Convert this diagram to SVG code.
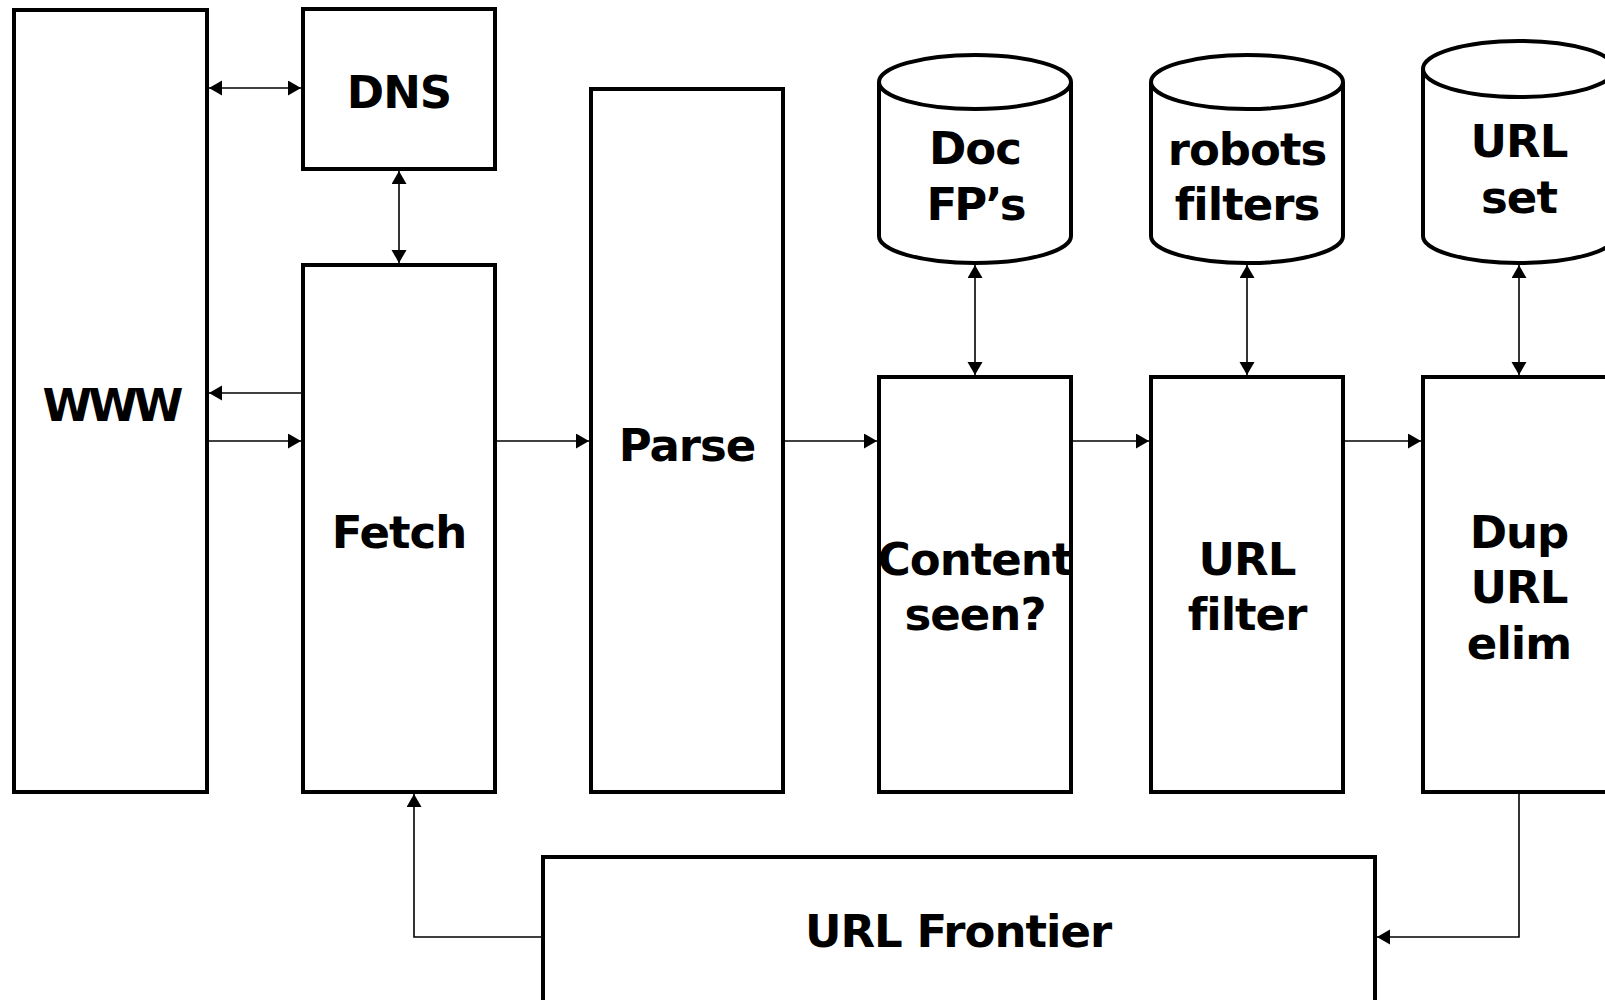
<svg xmlns="http://www.w3.org/2000/svg" width="1605" height="1000" viewBox="0 0 1605 1000">
  <style>
    .box { fill: #fff; stroke: #000; stroke-width: 4; }
    .lbl { font-family: "DejaVu Sans", "Open Sans", sans-serif; font-weight: bold; font-size: 45px; letter-spacing: -1px; fill: #000; text-anchor: middle; }
    .con { fill: none; stroke: #000; stroke-width: 1.6; }
    .rim { fill: none; stroke: #000; stroke-width: 4; }
  </style>
  <defs>
    <marker id="arr" markerUnits="userSpaceOnUse" markerWidth="14" markerHeight="16" refX="13" refY="7.5" orient="auto-start-reverse" viewBox="0 0 14 16">
      <path d="M0,0 L13,7.5 L0,15 z" fill="#000"/>
    </marker>
  </defs>
  <rect width="1605" height="1000" fill="#fff"/>

  <!-- connectors -->
  <g id="connectors">
    <line class="con" x1="209" y1="88" x2="301" y2="88" marker-start="url(#arr)" marker-end="url(#arr)"/>
    <line class="con" x1="399" y1="171" x2="399" y2="263" marker-start="url(#arr)" marker-end="url(#arr)"/>
    <line class="con" x1="301" y1="393" x2="209" y2="393" marker-end="url(#arr)"/>
    <line class="con" x1="209" y1="441" x2="301" y2="441" marker-end="url(#arr)"/>
    <line class="con" x1="497" y1="441" x2="589" y2="441" marker-end="url(#arr)"/>
    <line class="con" x1="785" y1="441" x2="877" y2="441" marker-end="url(#arr)"/>
    <line class="con" x1="1073" y1="441" x2="1149" y2="441" marker-end="url(#arr)"/>
    <line class="con" x1="1345" y1="441" x2="1421" y2="441" marker-end="url(#arr)"/>
    <line class="con" x1="975" y1="265" x2="975" y2="375" marker-start="url(#arr)" marker-end="url(#arr)"/>
    <line class="con" x1="1247" y1="265" x2="1247" y2="375" marker-start="url(#arr)" marker-end="url(#arr)"/>
    <line class="con" x1="1519" y1="265" x2="1519" y2="375" marker-start="url(#arr)" marker-end="url(#arr)"/>
    <path class="con" d="M1519 794 V937 H1377" marker-end="url(#arr)"/>
    <path class="con" d="M541 937 H414 V794" marker-end="url(#arr)"/>
  </g>

  <g id="www">
    <rect class="box" x="14" y="10" width="193" height="782"/>
    <text class="lbl" x="111" y="421" style="letter-spacing:-4px">WWW</text>
  </g>
  <g id="dns">
    <rect class="box" x="303" y="9" width="192" height="160"/>
    <text class="lbl" x="399" y="108">DNS</text>
  </g>
  <g id="fetch">
    <rect class="box" x="303" y="265" width="192" height="527"/>
    <text class="lbl" x="399" y="548">Fetch</text>
  </g>
  <g id="parse">
    <rect class="box" x="591" y="89" width="192" height="703"/>
    <text class="lbl" x="687" y="461">Parse</text>
  </g>
  <g id="content-seen">
    <rect class="box" x="879" y="377" width="192" height="415"/>
    <text class="lbl" x="975" y="575">Content<tspan x="975" dy="55">seen?</tspan></text>
  </g>
  <g id="url-filter">
    <rect class="box" x="1151" y="377" width="192" height="415"/>
    <text class="lbl" x="1247" y="575">URL<tspan x="1247" dy="55">filter</tspan></text>
  </g>
  <g id="dup-url-elim">
    <rect class="box" x="1423" y="377" width="192" height="415"/>
    <text class="lbl" x="1519" y="548">Dup<tspan x="1519" dy="55">URL</tspan><tspan x="1519" dy="56">elim</tspan></text>
  </g>
  <g id="url-frontier">
    <rect class="box" x="543" y="857" width="832" height="160"/>
    <text class="lbl" x="958" y="947">URL Frontier</text>
  </g>

  <!-- data stores -->
  <g id="doc-fps">
    <path class="box" d="M879 82 A96 27 0 0 1 1071 82 V236 A96 27 0 0 1 879 236 Z"/>
    <path class="rim" d="M879 82 A96 27 0 0 0 1071 82"/>
    <text class="lbl" x="975" y="164">Doc<tspan x="975" dy="56" style="letter-spacing:-3px">FP’s</tspan></text>
  </g>
  <g id="robots-filters">
    <path class="box" d="M1151 82 A96 27 0 0 1 1343 82 V236 A96 27 0 0 1 1151 236 Z"/>
    <path class="rim" d="M1151 82 A96 27 0 0 0 1343 82"/>
    <text class="lbl" x="1247" y="165">robots<tspan x="1247" dy="55">filters</tspan></text>
  </g>
  <g id="url-set">
    <path class="box" d="M1423 69 A96 28 0 0 1 1615 69 V236 A96 27 0 0 1 1423 236 Z"/>
    <path class="rim" d="M1423 69 A96 28 0 0 0 1615 69"/>
    <text class="lbl" x="1519" y="157">URL<tspan x="1519" dy="56">set</tspan></text>
  </g>
</svg>
